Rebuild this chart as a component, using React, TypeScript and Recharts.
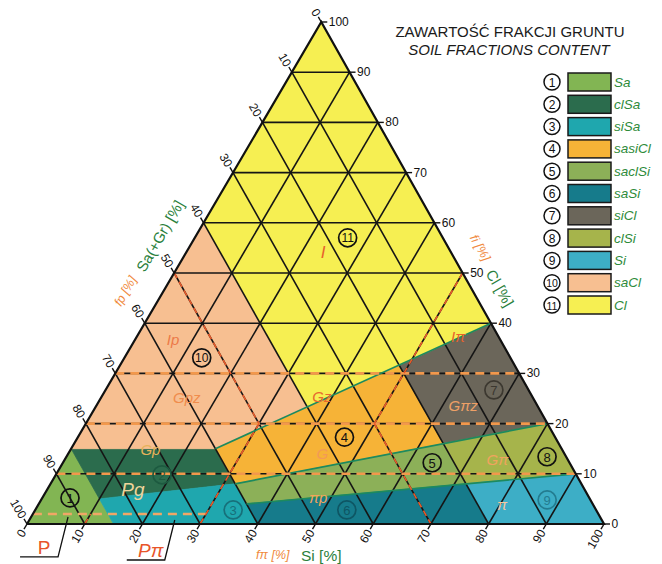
import React from 'react';
import { ScatterChart, Scatter, XAxis, YAxis } from 'recharts';

// a ternary point is [Sa, Si, Cl] in %
type Tri = [number, number, number];

const H = Math.sqrt(3) / 2;
const LEAN = 0.51; // the printed triangle leans a little to the right
const FONT = '"Liberation Sans", Arial, sans-serif';

// soil fraction classes (PN-EN ISO 14688-2), polygon vertices [Sa, Si, Cl]
const REGION_SA: Tri[] = [[100, 0, 0], [85, 0, 15], [85, 15, 0]];
const REGION_CLSA: Tri[] = [[85, 0, 15], [60, 25, 15], [60, 32, 8], [85, 10, 5]];
const REGION_SISA: Tri[] = [[85, 10, 5], [60, 32, 8], [60, 40, 0], [85, 15, 0]];
const REGION_SASICL: Tri[] = [[60, 25, 15], [20, 48.33, 31.67], [20, 64, 16], [60, 32, 8]];
const REGION_SACLSI: Tri[] = [[60, 32, 8], [20, 64, 16], [20, 72, 8], [60, 36, 4]];
const REGION_SASI: Tri[] = [[60, 36, 4], [20, 72, 8], [20, 80, 0], [60, 40, 0]];
const REGION_SICL: Tri[] = [[20, 48.33, 31.67], [0, 60, 40], [0, 80, 20], [20, 64, 16]];
const REGION_CLSI: Tri[] = [[20, 64, 16], [0, 80, 20], [0, 90, 10], [20, 72, 8]];
const REGION_SI: Tri[] = [[20, 72, 8], [0, 90, 10], [0, 100, 0], [20, 80, 0]];
const REGION_SACL: Tri[] = [[40, 0, 60], [40, 36.67, 23.33], [60, 25, 15], [85, 0, 15]];
const REGION_CL: Tri[] = [[0, 0, 100], [40, 0, 60], [40, 36.67, 23.33], [0, 60, 40]];

const REGIONS = [
  REGION_SA, REGION_CLSA, REGION_SISA, REGION_SASICL, REGION_SACLSI, REGION_SASI,
  REGION_SICL, REGION_CLSI, REGION_SI, REGION_SACL, REGION_CL,
];
const CLASS_CODES = ['Sa', 'clSa', 'siSa', 'sasiCl', 'saclSi', 'saSi', 'siCl', 'clSi', 'Si', 'saCl', 'Cl'];
const CLASS_COLORS = [
  '#82b553', '#2b6c4d', '#1fa7ae', '#f6b337', '#8cb058', '#167b8b',
  '#6b665a', '#a6b44b', '#3daec6', '#f7bf91', '#f6ef52',
];

// boundaries between classes drawn in green
const CLASS_LINES: Tri[][] = [
  [[60, 25, 15], [0, 60, 40]],
  [[60, 32, 8], [0, 80, 20]],
  [[60, 36, 4], [0, 90, 10]],
];

// old PN-86/B-02480 boundaries (dashed)
const OLD_CLAY_LINES: Tri[][] = [
  [[70, 0, 30], [0, 70, 30]],
  [[80, 0, 20], [0, 80, 20]],
  [[90, 0, 10], [0, 90, 10]],
];
const OLD_FINE_CLAY_LINE: Tri[] = [[98, 0, 2], [68, 30, 2]];
const OLD_SIDE_LINES: Tri[][] = [
  [[50, 0, 50], [50, 30, 20]],
  [[0, 50, 50], [30, 50, 20]],
  [[30, 50, 20], [30, 70, 0]],
  [[50, 30, 20], [70, 30, 0]],
  [[90, 10, 0], [88, 10, 2]],
];

const TICKS = [0, 10, 20, 30, 40, 50, 60, 70, 80, 90, 100];
const GRID = [10, 20, 30, 40, 50, 60, 70, 80, 90];

// circled class numbers: [number, Si, Cl]
const CLASS_MARKS: [string, number, number][] = [
  ['1', 4.8, 5.2], ['2', 18.4, 9.8], ['3', 34.3, 2.8], ['4', 46.2, 17.3],
  ['5', 64.0, 12.2], ['6', 54.0, 2.8], ['7', 67.3, 26.7], ['8', 83.3, 13.4],
  ['9', 87.7, 4.8], ['10', 13.4, 33.1], ['11', 26.5, 57.0],
];

// old soil names: [name, Si, Cl]
const OLD_NAMES: [string, number, number][] = [
  ['I', 23.8, 54.0], ['Iπ', 55.7, 37.3], ['Ip', 6.6, 36.7], ['Gpz', 14.9, 25.1],
  ['Gz', 38.2, 25.3], ['G', 44.0, 14.1], ['Gp', 13.8, 14.9], ['Pg', 14.9, 6.8],
  ['πp', 47.8, 5.2], ['Gπz', 63.5, 23.7], ['Gπ', 75.0, 12.8], ['π', 80.4, 3.8],
];

const OLD_TINT: Record<string, string> = {
  I: '#e8622c', 'Iπ': '#e8622c', Ip: '#ec7a48', Gpz: '#f08c4c', Gz: '#e8682e', G: '#f39a56',
  Gp: '#e6b25a', Pg: '#eed49c', 'πp': '#f3a45a', 'Gπz': '#eea066', 'Gπ': '#f0a45e', 'π': '#f6c8a0',
};
const CIRCLE_TONE: Record<string, string> = {
  '2': '#1d5a40', '3': '#17707a', '6': '#0e5664', '7': '#3c3830', '9': '#237c90',
};

const pt = ([sa, si, cl]: Tri) => ({ x: si + cl * LEAN, y: cl * H, sa });
const closed = (poly: Tri[]) => [...poly, poly[0]].map(pt);
const pathD = (points: { x: number; y: number }[]) =>
  (points || []).map((p, i) => `${i ? 'L' : 'M'}${p.x},${p.y}`).join(' ');

const noDot = () => <g />;

const strokeLine = (stroke: string, width: number, dash?: string) => (p: any) => (
  <path d={pathD(p.points)} fill="none" stroke={stroke} strokeWidth={width} strokeDasharray={dash} />
);

const gridSegments: Tri[][] = [
  ...GRID.map((v): Tri[] => [[100 - v, 0, v], [0, 100 - v, v]]),
  ...GRID.map((v): Tri[] => [[v, 0, 100 - v], [v, 100 - v, 0]]),
  ...GRID.map((v): Tri[] => [[100 - v, v, 0], [0, v, 100 - v]]),
];
const OUTLINE: Tri[] = [[100, 0, 0], [0, 100, 0], [0, 0, 100]];

const saTicks = TICKS.map((v) => ({ ...pt([v, 0, 100 - v]), v }));
const siTicks = TICKS.map((v) => ({ ...pt([100 - v, v, 0]), v }));
const clTicks = TICKS.map((v) => ({ ...pt([0, 100 - v, v]), v }));

const tickShape = (dx: number, dy: number, rot: number, anchor: 'start' | 'end') => (p: any) => (
  <g>
    <line x1={p.cx} y1={p.cy} x2={p.cx + dx * 6} y2={p.cy + dy * 6} stroke="#111" strokeWidth={1.4} />
    <text
      transform={`translate(${p.cx + dx * 7.5},${p.cy + dy * 7.5}) rotate(${rot})`}
      textAnchor={anchor}
      dominantBaseline="central"
      fontSize={12}
      fontFamily={FONT}
      fill="#111"
    >
      {p.payload.v}
    </text>
  </g>
);

const markShape = (p: any) => {
  const n: string = p.payload.n;
  const tone = CIRCLE_TONE[n] ?? '#111';
  return (
    <g>
      <circle cx={p.cx} cy={p.cy} r={9} fill="none" stroke={tone} strokeWidth={1.7} />
      <text x={p.cx} y={p.cy + 0.5} textAnchor="middle" dominantBaseline="central"
        fontSize={n.length > 1 ? 12 : 13} fontFamily={FONT} fill={tone}>{n}</text>
    </g>
  );
};

const nameShape = (p: any) => {
  const t: string = p.payload.t;
  const size = t === 'Pg' ? 19 : t === 'I' ? 17 : 15;
  return (
    <text x={p.cx} y={p.cy} textAnchor="middle" dominantBaseline="central" fontSize={size}
      fontStyle="italic" fontFamily={FONT} fill={OLD_TINT[t]}>{t}</text>
  );
};

const captionShape = (text: string, dx: number, dy: number, rot: number, size: number, fill: string, italic = false) =>
  (p: any) => (
    <text transform={`translate(${p.cx + dx},${p.cy + dy}) rotate(${rot})`} textAnchor="middle"
      dominantBaseline="central" fontSize={size} fontStyle={italic ? 'italic' : 'normal'}
      fontFamily={FONT} fill={fill}>{text}</text>
  );

const leaderShape = (text: string, italic: boolean) => (p: any) => (
  <g>
    <path d={`M${p.cx},${p.cy} L${p.cx - 10},${p.cy + 40} L${p.cx - 48},${p.cy + 40}`} fill="none" stroke="#111" strokeWidth={1.3} />
    <text x={p.cx - 24} y={p.cy + 31} textAnchor="middle" dominantBaseline="central" fontSize={19}
      fontStyle={italic ? 'italic' : 'normal'} fontFamily={FONT} fill="#e8542a">{text}</text>
  </g>
);

const GREEN = '#2b7f3c';
const ORANGE = '#f08a40';

const CAPTIONS: { at: Tri; shape: (p: any) => React.ReactElement }[] = [
  { at: [45, 0, 55], shape: captionShape('Sa(+Gr) [%]', -29, -12, -60, 15, GREEN) },
  { at: [55, 0, 45], shape: captionShape('fp [%]', -34, -7, -60, 12.5, ORANGE, true) },
  { at: [0, 53, 47], shape: captionShape('Cl [%]', 29, 0, 60, 15, GREEN) },
  { at: [0, 45, 55], shape: captionShape('fi [%]', 31.5, 0, 60, 12.5, ORANGE, true) },
  { at: [57.4, 42.6, 0], shape: captionShape('fπ [%]', 0, 31, 0, 12.5, ORANGE, true) },
  { at: [49, 51, 0], shape: captionShape('Si [%]', 0, 31, 0, 15.5, GREEN) },
  { at: [92.2, 6.4, 1.4], shape: leaderShape('P', false) },
  { at: [74, 25.2, 0.8], shape: leaderShape('Pπ', true) },
];

function Legend() {
  return (
    <svg width={662} height={564} style={{ position: 'absolute', left: 0, top: 0, pointerEvents: 'none' }}>
      <text x={510} y={36.5} textAnchor="middle" fontSize={15} fontFamily={FONT} fill="#1a1a1a">ZAWARTOŚĆ FRAKCJI GRUNTU</text>
      <text x={509} y={54.5} textAnchor="middle" fontSize={15} fontStyle="italic" fontFamily={FONT} fill="#1a1a1a">SOIL FRACTIONS CONTENT</text>
      {CLASS_CODES.map((code, i) => {
        const y = 82 + i * 22.3;
        const n = String(i + 1);
        return (
          <g key={code}>
            <circle cx={552} cy={y} r={8} fill="#fff" stroke="#111" strokeWidth={1.5} />
            <text x={552} y={y + 0.5} textAnchor="middle" dominantBaseline="central" fontSize={n.length > 1 ? 10.5 : 12}
              fontFamily={FONT} fill="#111">{n}</text>
            <rect x={568} y={y - 9} width={43} height={18} fill={CLASS_COLORS[i]} stroke="#1a1a1a" strokeWidth={1.5} />
            <text x={614} y={y} dominantBaseline="central" fontSize={13.5} fontStyle="italic" fontFamily={FONT}
              fill="#2e8b3a">{code}</text>
          </g>
        );
      })}
    </svg>
  );
}

export default function App() {
  return (
    <div style={{ position: 'absolute', left: 0, top: 0, width: 662, height: 564, fontFamily: FONT }}>
      <ScatterChart width={662} height={564} margin={{ top: 22, right: 58, bottom: 40, left: 27 }}>
        <XAxis type="number" dataKey="x" domain={[0, 100]} hide />
        <YAxis type="number" dataKey="y" domain={[0, 100 * H]} hide />

        {REGIONS.map((poly, i) => (
          <Scatter
            key={`region-${i}`}
            data={closed(poly)}
            shape={noDot}
            isAnimationActive={false}
            line={(p: any) => (
              <path d={pathD(p.points) + ' Z'} fill={CLASS_COLORS[i]} stroke={CLASS_COLORS[i]} strokeWidth={0.8} />
            )}
          />
        ))}

        {gridSegments.map((s, i) => (
          <Scatter key={`grid-${i}`} data={s.map(pt)} shape={noDot} isAnimationActive={false}
            line={strokeLine('#151515', 1.6)} />
        ))}

        {CLASS_LINES.map((s, i) => (
          <Scatter key={`cls-${i}`} data={s.map(pt)} shape={noDot} isAnimationActive={false}
            line={strokeLine('#1d8a5e', 1.7)} />
        ))}

        {OLD_CLAY_LINES.map((s, i) => (
          <Scatter key={`old-${i}`} data={s.map(pt)} shape={noDot} isAnimationActive={false}
            line={strokeLine('#f2984c', 2.6, '9 6')} />
        ))}
        <Scatter data={OLD_FINE_CLAY_LINE.map(pt)} shape={noDot} isAnimationActive={false}
          line={strokeLine('#f1a666', 2.6, '9 6')} />
        {OLD_SIDE_LINES.map((s, i) => (
          <Scatter key={`side-${i}`} data={s.map(pt)} shape={noDot} isAnimationActive={false}
            line={strokeLine('#e85a2a', 1.6, '6 4')} />
        ))}

        <Scatter data={closed(OUTLINE)} shape={noDot} isAnimationActive={false} line={strokeLine('#111', 2.2)} />

        <Scatter data={CLASS_MARKS.map(([n, si, cl]) => ({ ...pt([100 - si - cl, si, cl]), n }))}
          shape={markShape} isAnimationActive={false} />
        <Scatter data={OLD_NAMES.map(([t, si, cl]) => ({ ...pt([100 - si - cl, si, cl]), t }))}
          shape={nameShape} isAnimationActive={false} />

        <Scatter data={saTicks} shape={tickShape(-0.5, -H, 60, 'end')} isAnimationActive={false} />
        <Scatter data={siTicks} shape={tickShape(-0.5, H, -60, 'end')} isAnimationActive={false} />
        <Scatter data={clTicks} shape={tickShape(1, 0, 0, 'start')} isAnimationActive={false} />

        {CAPTIONS.map((c, i) => (
          <Scatter key={`cap-${i}`} data={[pt(c.at)]} shape={c.shape} isAnimationActive={false} />
        ))}
      </ScatterChart>
      <Legend />
    </div>
  );
}
